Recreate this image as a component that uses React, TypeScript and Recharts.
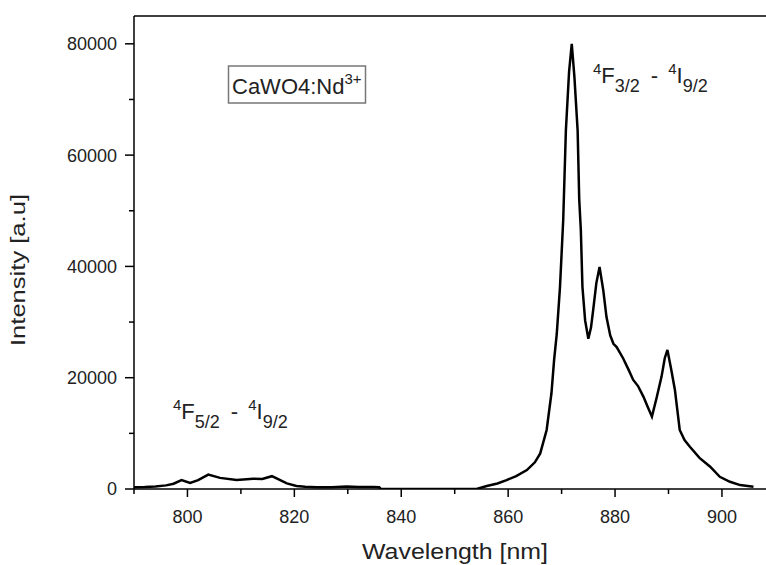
import React from 'react';
import { LineChart, Line, XAxis, YAxis, ReferenceLine, Customized } from 'recharts';

const wavelength = [
  790, 792, 794, 796, 797.4, 798.9, 800.5, 802, 803.9, 806.1, 809.2, 812.3, 814, 815.8, 818.6, 820.4,
  822, 824.2, 827, 829.8, 832, 834.8, 835.9, 836.2, 845, 854.1, 856, 858, 859.7, 861.5, 863.5, 865,
  866, 867.2, 868.1, 868.6, 869.1, 869.7, 870.3, 870.8, 871.4, 871.9, 872.4, 873.0, 873.3, 873.6,
  873.9, 874.4, 875.0, 875.5, 875.9, 876.5, 877.1, 877.8, 878.4, 879.1, 879.7, 880.3, 881.5, 882.5,
  883.4, 884.3, 885.3, 886.1, 886.9, 887.8, 888.7, 889.3, 889.8, 890.5, 891.2, 892.1, 893, 894.0,
  895.8, 897.8, 899.6, 901.5, 903.4, 905.9,
];

const intensity = [
  300, 350, 450, 650, 950, 1600, 1100, 1600, 2600, 2000, 1600, 1850, 1800, 2300, 1000, 550,
  400, 300, 300, 450, 350, 350, 300, 0, 0, 0, 550, 1000, 1600, 2300, 3400, 4800,
  6400, 10600, 17200, 23200, 27900, 36300, 48300, 64400, 75000, 80000, 74000, 64400, 52000, 46500,
  36300, 30300, 27000, 29000, 32100, 37000, 39900, 35700, 30900, 27600, 26100, 25500, 23500, 21500,
  19600, 18500, 16600, 14800, 13000, 16500, 20200, 23500, 25000, 21500, 17800, 10600, 8800, 7600,
  5600, 4000, 2200, 1300, 700, 400,
];

const xTicks = [790, 800, 810, 820, 830, 840, 850, 860, 870, 880, 890, 900, 910];
const xMajor = [800, 820, 840, 860, 880, 900];
const yTicks = [0, 10000, 20000, 30000, 40000, 50000, 60000, 70000, 80000];
const yMajor = [0, 20000, 40000, 60000, 80000];

const data = wavelength.map((w, i) => ({ w, v: intensity[i] }));

const FONT = 'Liberation Sans, Arial, Helvetica, sans-serif';
const TXT = '#222';

const XTick = (props: any) => {
  const { x, y, payload } = props;
  const major = xMajor.includes(payload.value);
  return (
    <g>
      <line x1={x} x2={x} y1={y} y2={y + (major ? 8 : 5)} stroke="#000" strokeWidth={1.5} />
      {major && (
        <text x={x} y={y + 34} textAnchor="middle" fontSize={18} fontFamily={FONT} fill={TXT}>
          {payload.value}
        </text>
      )}
    </g>
  );
};

const YTick = (props: any) => {
  const { x, y, payload } = props;
  const major = yMajor.includes(payload.value);
  return (
    <g>
      <line x1={x - (major ? 9 : 5)} x2={x} y1={y} y2={y} stroke="#000" strokeWidth={1.5} />
      {major && (
        <text x={x - 17} y={y} dy="0.36em" textAnchor="end" fontSize={18} fontFamily={FONT} fill={TXT}>
          {payload.value}
        </text>
      )}
    </g>
  );
};

const Term = ({ x, y, a, b }: { x: number; y: number; a: string; b: string }) => (
  <text x={x} y={y} fontFamily={FONT} fill={TXT} fontSize={22}>
    <tspan fontSize={15} dy={-9}>4</tspan>
    <tspan dy={9}>F</tspan>
    <tspan fontSize={18} dy={9}>{a}</tspan>
    <tspan dy={-9} dx={11}>-</tspan>
    <tspan fontSize={15} dy={-9} dx={10}>4</tspan>
    <tspan dy={9}>I</tspan>
    <tspan fontSize={18} dy={9}>{b}</tspan>
  </text>
);

const Annotations = () => (
  <g>
    <rect x={228.5} y={66} width={137} height={37} fill="#fff" stroke="#777" strokeWidth={1.5} />
    <text x={232} y={94} fontFamily={FONT} fill={TXT} fontSize={22}>
      CaWO4:Nd<tspan fontSize={15} dy={-10}>3+</tspan>
    </text>
    <Term x={593} y={83} a="3/2" b="9/2" />
    <Term x={173} y={419} a="5/2" b="9/2" />
    <text
      x={455}
      y={559}
      textAnchor="middle"
      fontFamily={FONT}
      fill={TXT}
      fontSize={22}
      textLength={186}
      lengthAdjust="spacingAndGlyphs"
    >
      Wavelength [nm]
    </text>
    <text
      x={25}
      y={270}
      transform="rotate(-90 25 270)"
      textAnchor="middle"
      fontFamily={FONT}
      fill={TXT}
      fontSize={20}
      textLength={152}
      lengthAdjust="spacingAndGlyphs"
    >
      Intensity [a.u]
    </text>
  </g>
);

export default function App() {
  return (
    <div
      style={{
        position: 'absolute',
        left: 0,
        top: 0,
        width: 766,
        height: 565,
        overflow: 'hidden',
        background: '#fff',
      }}
    >
      <LineChart
        width={800}
        height={565}
        data={data}
        margin={{ top: 16, right: 24.6, left: 74, bottom: 36 }}
      >
        <XAxis
          dataKey="w"
          type="number"
          domain={[790, 910]}
          ticks={xTicks}
          interval={0}
          allowDataOverflow
          height={40}
          tickSize={0}
          tickMargin={0}
          tickLine={false}
          tick={<XTick />}
          axisLine={{ stroke: '#000', strokeWidth: 1.5 }}
        />
        <YAxis
          type="number"
          domain={[0, 85000]}
          ticks={yTicks}
          interval={0}
          allowDataOverflow
          width={60}
          tickSize={0}
          tickMargin={0}
          tickLine={false}
          tick={<YTick />}
          axisLine={{ stroke: '#000', strokeWidth: 1.5 }}
        />
        <ReferenceLine y={85000} stroke="#000" strokeWidth={1.5} />
        <Line
          type="linear"
          dataKey="v"
          stroke="#000"
          strokeWidth={2.5}
          dot={false}
          isAnimationActive={false}
        />
        <Customized component={<Annotations />} />
      </LineChart>
    </div>
  );
}
